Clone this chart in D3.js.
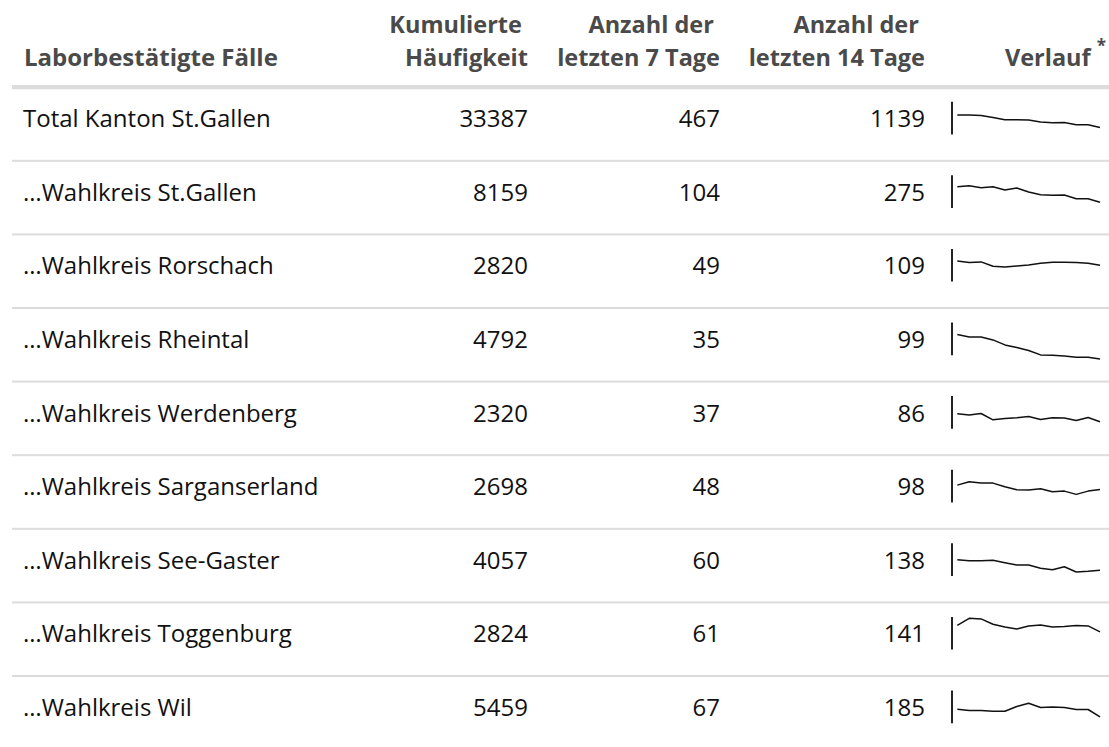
<!DOCTYPE html>
<html><head><meta charset="utf-8">
<script src="https://cdn.jsdelivr.net/npm/d3@7"></script>
<style>
body{margin:0;background:#fff}
svg{display:block;font-family:'Open Sans',sans-serif}
</style>
</head><body>
<svg id="chart" width="1109" height="747"></svg>
<script>
// ---- data ----
const regions = [
  "Total Kanton St.Gallen",
  "…Wahlkreis St.Gallen",
  "…Wahlkreis Rorschach",
  "…Wahlkreis Rheintal",
  "…Wahlkreis Werdenberg",
  "…Wahlkreis Sarganserland",
  "…Wahlkreis See-Gaster",
  "…Wahlkreis Toggenburg",
  "…Wahlkreis Wil"
];
const cumulative = [33387, 8159, 2820, 4792, 2320, 2698, 4057, 2824, 5459];
const last7 = [467, 104, 49, 35, 37, 48, 60, 61, 67];
const last14 = [1139, 275, 109, 99, 86, 98, 138, 141, 185];
const trendTotal = [29.3, 29.3, 29, 27, 24.7, 24.7, 24.3, 22.3, 21.7, 22, 19.7, 19.7, 17];
const trendStGallen = [31.3, 32.3, 30.3, 31.3, 28, 30, 26, 23.3, 22.7, 23, 19.3, 19.3, 15.7];
const trendRorschach = [30.7, 29, 29.7, 25.3, 24.7, 25.7, 26.7, 28.3, 29.3, 29.3, 29, 28.3, 26.3];
const trendRheintal = [30.7, 28.3, 28.3, 25.3, 20.3, 17.7, 14.7, 10.3, 10, 9.3, 8, 8, 6.3];
const trendWerdenberg = [25, 23.7, 25.3, 19, 20.3, 21, 22.3, 19.3, 21, 20.7, 18.3, 21.3, 17];
const trendSarganserland = [27.3, 30.7, 29.3, 29.3, 25.7, 22.7, 22.3, 23.7, 20.7, 21.3, 18, 21.3, 23];
const trendSeeGaster = [26.3, 25.3, 25.3, 25.7, 23.3, 21, 21, 17.7, 16.3, 19.3, 14, 14.7, 15.7];
const trendToggenburg = [34.3, 41.3, 40.7, 35.3, 32.7, 30.7, 33.7, 34.7, 32.7, 33, 34, 33.7, 27.7];
const trendWil = [24, 22.7, 22.7, 22, 22, 26.7, 30, 25.7, 26.3, 25.7, 23.7, 23.7, 16.3];
const trends = [trendTotal, trendStGallen, trendRorschach, trendRheintal, trendWerdenberg,
  trendSarganserland, trendSeeGaster, trendToggenburg, trendWil];
const headerLabel = ["Laborbestätigte Fälle"];
const headerCum = ["Kumulierte", "Häufigkeit"];
const header7 = ["Anzahl der", "letzten 7 Tage"];
const header14 = ["Anzahl der", "letzten 14 Tage"];
const headerTrend = "Verlauf";

// ---- layout ----
const svg = d3.select("#chart");
const W = 1109;
const headTop = 87.2, rowH = 73.6;
const y = d3.scaleBand().domain(regions).range([headTop, headTop + rowH * regions.length]).paddingInner(0).paddingOuter(0);
const colLabel = 23, colCum = 528, col7 = 720, col14 = 925;
const textColor = "#111", headColor = "#4a4a4a", lineColor = "#dcdcdc";

// header
const hg = svg.append("g").attr("font-weight", 700).attr("font-size", 23.5).attr("fill", headColor);
hg.append("text").attr("x", colLabel + 1).attr("y", 66).attr("font-size", 24).text(headerLabel[0]);
[[headerCum, colCum], [header7, col7], [header14, col14]].forEach(([lines, x]) => {
  hg.append("text").attr("x", x).attr("y", 32.5).attr("text-anchor", "end").text(lines[0] + "\u00a0");
  hg.append("text").attr("x", x).attr("y", 66).attr("text-anchor", "end").text(lines[1]);
});
const vt = hg.append("text").attr("x", 1106).attr("y", 66).attr("text-anchor", "end");
vt.append("tspan").text(headerTrend + " ");
vt.append("tspan").attr("font-size", 17).attr("dy", -14).text("*");

// header rule
svg.append("rect").attr("x", 12).attr("y", headTop - 2.2).attr("width", W - 12).attr("height", 4.3).attr("fill", lineColor);

// rows
const rows = svg.selectAll("g.row").data(regions).join("g").attr("class", "row")
  .attr("transform", d => `translate(0,${y(d)})`);
rows.filter((d, i) => i > 0).append("rect").attr("x", 12).attr("y", -1).attr("width", W - 12).attr("height", 2).attr("fill", lineColor);

const bl = 40;
rows.append("text").attr("x", colLabel).attr("y", bl).attr("font-size", 24).attr("fill", textColor).text(d => d);
rows.append("text").attr("x", colCum).attr("y", bl).attr("font-size", 24).attr("fill", textColor).attr("text-anchor", "end").text((d, i) => cumulative[i]);
rows.append("text").attr("x", col7).attr("y", bl).attr("font-size", 24).attr("fill", textColor).attr("text-anchor", "end").text((d, i) => last7[i]);
rows.append("text").attr("x", col14).attr("y", bl).attr("font-size", 24).attr("fill", textColor).attr("text-anchor", "end").text((d, i) => last14[i]);

// sparklines
const barTop = 14.5, barBot = 47.2;
const xs = d3.scaleLinear().domain([0, 12]).range([957.3, 1100]);
const ys = d3.scaleLinear().domain([0, 43]).range([barBot + 10, barBot + 10 - 43]);
rows.append("line").attr("x1", 952).attr("x2", 952).attr("y1", barTop).attr("y2", barBot)
  .attr("stroke", "#222").attr("stroke-width", 2);
const line = d3.line().x((d, i) => xs(i)).y(d => ys(d));
rows.append("path").attr("d", (d, i) => line(trends[i])).attr("fill", "none")
  .attr("stroke", "#111").attr("stroke-width", 1.5).attr("stroke-linejoin", "round");
</script>
</body></html>
